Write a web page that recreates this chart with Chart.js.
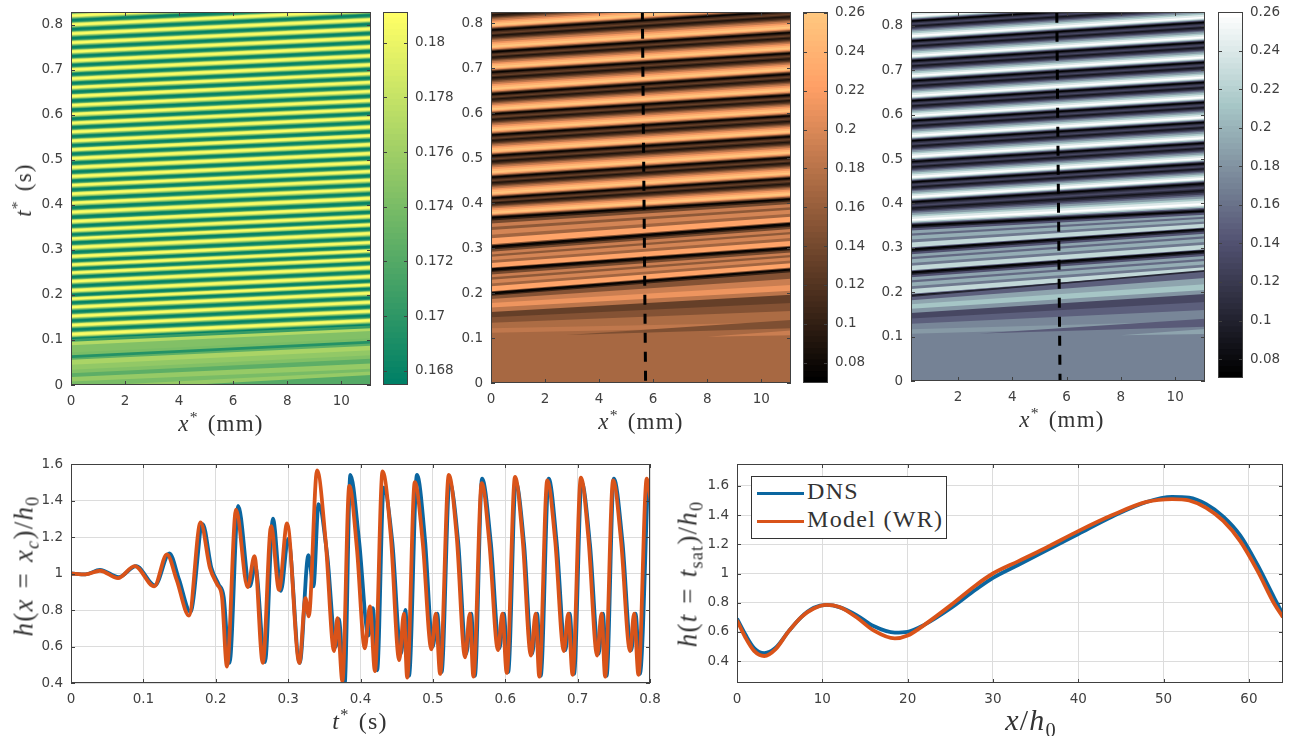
<!DOCTYPE html>
<html>
<head>
<meta charset="utf-8">
<title>Film thickness</title>
<script src="https://cdn.jsdelivr.net/npm/chart.js@4"></script>
<style>
  html, body { margin: 0; background: #fff; }
  #page { position: relative; width: 1289px; height: 736px; overflow: hidden; filter: blur(0.45px); }
  canvas { position: absolute; }
  .rotulo { position: absolute; transform: translate(-50%, -50%); white-space: nowrap; color: #333;
            font-family: "Liberation Serif", serif; letter-spacing: 1.2px; word-spacing: 2px; }
  .rotulo.vertical { transform: translate(-50%, -50%) rotate(-90deg); }
  .rotulo i { font-style: italic; }
  .rotulo sup, .rotulo sub { font-size: 0.68em; line-height: 0; }
  #legenda { position: absolute; left: 751px; top: 476px; width: 194px; height: 61px; background: #fff;
             border: 1px solid #333; font-family: "Liberation Serif", serif; font-size: 24px; color: #333; letter-spacing: 1.3px; }
  #legenda div { position: absolute; left: 55px; white-space: nowrap; }
  #legenda span { position: absolute; left: 5px; width: 47px; height: 3px; }
</style>
</head>
<body>
<div id="page"></div>
<script>
// Eixos
const ticksX = [0, 2, 4, 6, 8, 10];
const ticksXC = [2, 4, 6, 8, 10];
const ticksT = [0, 0.1, 0.2, 0.3, 0.4, 0.5, 0.6, 0.7, 0.8];
const ticksBarraA = [0.168, 0.17, 0.172, 0.174, 0.176, 0.178, 0.18];
const ticksBarraB = [0.08, 0.1, 0.12, 0.14, 0.16, 0.18, 0.2, 0.22, 0.24, 0.26];
const ticksHx = [0.4, 0.6, 0.8, 1, 1.2, 1.4, 1.6];
const ticksPosX = [0, 10, 20, 30, 40, 50, 60];

const tModel = [0, .02, .04, .065, .088, .115, .1325, .146, .163, .179, .192, .202, .2085, .2155, .228, .244, .2535, .265, .2765, .2875, .2985, .3155, .324, .3285, .34, .352, .3635, .368, .375, .3845, .395, .406, .413, .42, .4305, .442, .4535, .46, .4645, .475, .486, .498, .504, .51, .522, .533, .5445, .551, .556, .5675, .578, .59, .596, .602, .6135, .624, .6355, .642, .647, .658, .669, .681, .687, .693, .7045, .715, .727, .733, .738, .749, .76, .7725, .778, .784, .7955, .801];
const hModel = [1, .995, 1.015, .975, 1.04, .93, 1.105, .965, .77, 1.28, 1.03, .94, .875, .49, 1.35, .925, 1.095, .51, 1.26, .91, 1.275, .51, .865, .765, 1.565, 1.17, .575, .755, .41, 1.48, 1.14, .59, .82, .465, 1.56, 1.2, .525, .78, .43, 1.5, 1.17, .585, .78, .45, 1.54, 1.2, .54, .78, .435, 1.495, 1.17, .58, .78, .455, 1.53, 1.19, .55, .78, .435, 1.51, 1.18, .575, .78, .445, 1.525, 1.19, .55, .78, .435, 1.51, 1.18, .575, .78, .445, 1.52, 1.4];
const tDns = [0, .02, .04, .066, .09, .116, .136, .149, .165, .182, .194, .204, .211, .219, .231, .247, .2545, .268, .279, .29, .3, .316, .328, .335, .342, .354, .366, .37, .378, .386, .398, .411, .417, .423, .432, .444, .456, .462, .467, .478, .489, .5, .506, .512, .523, .535, .546, .553, .558, .568, .58, .592, .598, .604, .6145, .626, .637, .644, .649, .66, .671, .683, .689, .695, .7055, .717, .729, .735, .74, .75, .762, .774, .78, .786, .797];
const hDns = [1, .995, 1.02, .98, 1.04, .935, 1.11, .97, .79, 1.27, 1.03, .94, .87, .51, 1.37, .93, 1.04, .515, 1.3, .905, 1.19, .51, 1.1, .93, 1.38, 1.1, .6, .75, .39, 1.54, 1.18, .66, .81, .47, 1.47, 1.17, .56, .8, .44, 1.54, 1.19, .6, .78, .46, 1.5, 1.17, .56, .78, .44, 1.52, 1.17, .59, .78, .46, 1.5, 1.16, .56, .78, .44, 1.52, 1.17, .58, .78, .45, 1.5, 1.16, .56, .78, .44, 1.52, 1.17, .58, .78, .45, 1.5];

// Serie h(t = tsat) / h0, grafico inferior direito
const xPerfil = [0, 1, 2, 3.2, 4.5, 6, 7.5, 9, 10.5, 12, 14, 16, 18.5, 20, 22, 25, 28, 30, 33, 36, 40, 44, 48, 51, 53, 55, 57, 59, 61, 63, 64];
const hPerfilDns = [.69, .58, .49, .455, .49, .6, .7, .765, .785, .77, .715, .64, .595, .6, .65, .76, .89, .97, 1.06, 1.15, 1.27, 1.39, 1.49, 1.525, 1.52, 1.475, 1.39, 1.26, 1.06, .83, .72];
const hPerfilModel = [.68, .56, .47, .435, .48, .6, .7, .76, .785, .77, .7, .61, .555, .575, .65, .78, .92, 1, 1.085, 1.17, 1.29, 1.4, 1.49, 1.51, 1.5, 1.45, 1.36, 1.22, 1.02, .79, .7];
const nomesSeries = ["DNS", "Model (WR)"];

// Mapa A: vale escuro de cada faixa em x = 0 e perfil de uma faixa
const valesA = [.102, .123, .143, .163, .183, .2, .22, .24, .258, .276, .295, .316, .334, .353, .373, .394, .414, .434, .453, .473, .493, .513, .532, .552, .572, .591, .611, .631, .651, .67, .69, .71, .73, .75, .77, .79, .81, .83];
const subidaA = 0.031;
const faseA = [.1, .18, .28, .38, .6, .68, .76, .87, 1];
const valorA = [.1678, .17, .174, .178, .1808, .179, .1745, .17, .168];
const inicioEsqA = [-.014, -.004, .008, .018, .026, .034, .045, .056, .06, .066, .072, .088, .096, .102];
const inicioDirA = [.022, .03, .036, .048, .058, .066, .077, .087, .092, .098, .104, .12, .126, .132];
const inicioValorA = [.172, .1755, .174, .1755, .1725, .1745, .1752, .1765, .1725, .1695, .174, .1745, .177, .1705];

// Mapas B e C: linha mais escura de cada ciclo em x = 0 e x = xmax
const linhaEsqB = [.199, .252, .302, .368, .411, .457, .505, .551, .598, .642, .691, .736, .785, .83];
const linhaDirB = [.252, .3, .353, .409, .455, .501, .548, .594, .64, .687, .733, .779, .827, .872];
const linhaEsqC = [.19, .243, .295, .349, .402, .447, .493, .54, .585, .63, .675, .72, .765, .81, .855];
const linhaDirC = [.241, .292, .342, .383, .445, .49, .536, .583, .628, .673, .718, .763, .808, .853, .898];
const faseCiclo = [.03, .07, .12, .17, .22, .29, .38, .46, .54, .6, .66, .72, .77, .82, .88, .93, .97, 1];
const valorCiclo = [.074, .1, .15, .205, .245, .258, .24, .215, .185, .155, .125, .105, .09, .11, .13, .115, .095, .076];
const faseCicloInicial = [.06, .1, .3, .42, .58, .68, .8, .9, .96, 1];
const valorCicloInicial = [.078, .15, .225, .165, .195, .155, .19, .14, .1, .075];
const inicioEsqB = [.112, .122, .134, .146, .158, .168, .178, .187, .194, .197];
const inicioDirB = [.125, .135, .16, .178, .196, .205, .218, .232, .246, .25];
const inicioValorB = [.17, .185, .172, .15, .13, .18, .21, .19, .15, .105];
const cunhaX = [2.8, 11.1];
const cunhaBaixo = [.107, .122];
const cunhaAlto = [.107, .14];
const valorCunha = 0.145;
const cunhaClaraX = [8, 11.1];
const cunhaClaraBaixo = [.103, .106];
const cunhaClaraAlto = [.103, .117];
const valorCunhaClara = 0.19;
const tracoB = [[5.6, .83], [5.72, 0]];
const tracoC = [[5.64, .83], [5.76, 0]];

const pagina = document.getElementById("page");
const corTexto = "#404040";

// Mapas de cor do MATLAB, 64 niveis
function nivel(v, min, max) {
  const n = Math.max(0, Math.min(63, Math.floor((v - min) / (max - min) * 64)));
  return n / 63;
}
function rgb(r, g, b) {
  return `rgb(${Math.round(r * 255)},${Math.round(g * 255)},${Math.round(b * 255)})`;
}
const summer = x => rgb(x, 0.5 + x / 2, 0.4);
const copper = x => rgb(Math.min(1, 1.25 * x), 0.7812 * x, 0.4975 * x);
const bone = x => {
  const c = v => Math.max(0, Math.min(1, v));
  const hr = c(x / 0.375), hg = c((x - 0.375) / 0.375), hb = c((x - 0.75) / 0.25);
  return rgb((7 * x + hb) / 8, (7 * x + hg) / 8, (7 * x + hr) / 8);
};

// Caixa e marcas para dentro, como no MATLAB
const caixa = {
  id: "caixa",
  afterDraw(chart) {
    const { ctx, chartArea: a, scales } = chart;
    ctx.save();
    ctx.strokeStyle = corTexto;
    ctx.lineWidth = 1;
    ctx.beginPath();
    if (scales.x && scales.x.options.display) {
      scales.x.ticks.forEach((t) => {
        const p = Math.round(scales.x.getPixelForValue(t.value)) + 0.5;
        ctx.moveTo(p, a.bottom); ctx.lineTo(p, a.bottom - 4);
        ctx.moveTo(p, a.top); ctx.lineTo(p, a.top + 4);
      });
    }
    scales.y.ticks.forEach((t) => {
      const p = Math.round(scales.y.getPixelForValue(t.value)) + 0.5;
      ctx.moveTo(a.left, p); ctx.lineTo(a.left + 4, p);
      ctx.moveTo(a.right, p); ctx.lineTo(a.right - 4, p);
    });
    ctx.stroke();
    ctx.strokeRect(a.left + 0.5, a.top + 0.5, a.right - a.left - 1, a.bottom - a.top - 1);
    ctx.restore();
  },
};

function formato(v) {
  return String(Number(v.toFixed(3)));
}

function semMargem(s) {
  s.paddingTop = 0; s.paddingBottom = 0; s.paddingLeft = 0; s.paddingRight = 0;
}

function eixo(min, max, ticks, extra) {
  return Object.assign({
    type: "linear", min, max,
    border: { display: false },
    grid: { display: false, drawTicks: false },
    ticks: {
      padding: 8, color: corTexto, autoSkip: false, maxRotation: 0,
      font: { family: "'DejaVu Sans'", size: 13.5 },
      callback: formato,
    },
    afterBuildTicks: (s) => { s.ticks = ticks.map((value) => ({ value })); },
  }, extra);
}

// Cria um grafico com a area de plotagem exatamente em area = [esq, topo, dir, base]
function grafico(area, datasets, escalas) {
  const [esq, topo, dir, base] = area;
  const mE = 62, mT = 12, mD = 22, mB = 36;
  const c = document.createElement("canvas");
  c.width = dir - esq + mE + mD;
  c.height = base - topo + mT + mB;
  c.style.left = (esq - mE) + "px";
  c.style.top = (topo - mT) + "px";
  pagina.appendChild(c);
  escalas.y.afterFit = (s) => { s.width = mE; semMargem(s); };
  escalas.x.afterFit = (s) => { s.height = mB; semMargem(s); };
  return new Chart(c, {
    type: "line",
    data: { datasets },
    options: {
      responsive: false, animation: false, events: [],
      layout: { padding: { top: mT, right: mD } },
      plugins: { legend: { display: false }, tooltip: { enabled: false } },
      elements: { point: { radius: 0 } },
      scales: escalas,
    },
    plugins: [caixa],
  });
}

function banda(xFim, esq, dir, cor) {
  return {
    data: [{ x: 0, y: esq }, { x: xFim, y: dir }],
    borderColor: "transparent", borderWidth: 1, backgroundColor: cor, fill: "start",
  };
}

// Barra de cores: um retangulo por nivel
function barra(area, min, max, mapa, ticks) {
  const [esq, topo, dir, base] = area;
  const niveis = [];
  for (let i = 0; i < 64; i++) niveis.push(i);
  const c = document.createElement("canvas");
  c.width = dir - esq + 50;
  c.height = base - topo + 12;
  c.style.left = esq + "px";
  c.style.top = (topo - 6) + "px";
  pagina.appendChild(c);
  const y = eixo(min, max, ticks, { position: "right", afterFit: (s) => { s.width = 50; semMargem(s); } });
  y.ticks.padding = 7;
  new Chart(c, {
    type: "bar",
    data: {
      labels: ["c"],
      datasets: niveis.map((i) => ({
        data: [[min, min + (i + 1) / 64 * (max - min)]],
        backgroundColor: mapa(i / 63), barPercentage: 1, categoryPercentage: 1, grouped: false,
      })),
    },
    options: {
      responsive: false, animation: false, events: [],
      layout: { padding: { top: 6, bottom: 6 } },
      plugins: { legend: { display: false }, tooltip: { enabled: false } },
      scales: { x: { display: false, offset: true }, y },
    },
    plugins: [caixa],
  });
}

function mapaCiclos(xFim, min, max, mapa, esq, dir, inicioE, inicioD, inicioV) {
  const bandas = [];
  const cor = (v) => mapa(nivel(v, min, max));
  inicioE.forEach((e, i) => bandas.push(banda(xFim, e, inicioD[i], cor(inicioV[i]))));
  bandas.push(banda(xFim, esq[0], dir[0], cor(.075)));
  for (let i = 0; i < esq.length - 1; i++) {
    const fases = i < 3 ? faseCicloInicial : faseCiclo;
    const valores = i < 3 ? valorCicloInicial : valorCiclo;
    fases.forEach((f, k) => {
      bandas.push(banda(xFim,
        esq[i] + f * (esq[i + 1] - esq[i]),
        dir[i] + f * (dir[i + 1] - dir[i]),
        cor(valores[k])));
    });
  }
  return bandas;
}

function tracejado(traco) {
  return {
    data: traco.map(([x, y]) => ({ x, y })),
    borderColor: "#000", borderWidth: 3, borderDash: [10, 9], fill: false,
  };
}

function cunha(xs, alto, baixo, cor) {
  return [
    { data: xs.map((x, i) => ({ x, y: alto[i] })), borderColor: "transparent", borderWidth: 1, backgroundColor: cor, fill: "+1" },
    { data: xs.map((x, i) => ({ x, y: baixo[i] })), borderColor: "transparent", borderWidth: 1, fill: false },
  ];
}
function cunhas(min, max, mapa) {
  return [
    ...cunha(cunhaX, cunhaAlto, cunhaBaixo, mapa(nivel(valorCunha, min, max))),
    ...cunha(cunhaClaraX, cunhaClaraAlto, cunhaClaraBaixo, mapa(nivel(valorCunhaClara, min, max))),
  ];
}

// Mapa A
const xMaxA = 11.1;
const bandasA = inicioEsqA.map((e, i) => banda(xMaxA, e, inicioDirA[i], summer(nivel(inicioValorA[i], .16748, .18112))));
valesA.slice(0, -1).forEach((v, i) => {
  faseA.forEach((f, k) => {
    const e = v + f * (valesA[i + 1] - v);
    bandasA.push(banda(xMaxA, e, e + subidaA, summer(nivel(valorA[k], .16748, .18112))));
  });
});
grafico([71, 12, 371, 385], bandasA, {
  x: eixo(0, xMaxA, ticksX),
  y: eixo(0, 0.828, ticksT),
});
barra([383, 12, 408, 385], .16748, .18112, summer, ticksBarraA);

// Mapa B
const xMaxB = 11.1;
const bandasB = mapaCiclos(xMaxB, .0695, .2605, copper, linhaEsqB, linhaDirB, inicioEsqB, inicioDirB, inicioValorB);
grafico([491, 12, 791, 383], [tracejado(tracoB), ...cunhas(.0695, .2605, copper), ...bandasB], {
  x: eixo(0, xMaxB, ticksX),
  y: eixo(0, 0.825, ticksT),
});
barra([803, 12, 828, 383], .0695, .2605, copper, ticksBarraB);

// Mapa C
const xMaxC = 11.1;
const inicioEsqC = inicioEsqB.map((v) => v - 0.006);
const bandasC = mapaCiclos(xMaxC, .0702, .26, bone, linhaEsqC, linhaDirC, inicioEsqC, inicioDirB, inicioValorB);
grafico([911, 12, 1205, 381], [tracejado(tracoC), ...cunhas(.0702, .26, bone), ...bandasC], {
  x: eixo(0.27, xMaxC, ticksXC),
  y: eixo(0, 0.8315, ticksT),
});
barra([1218, 12, 1243, 378], .0702, .26, bone, ticksBarraB);

// Graficos de linha
function serie(xs, ys, cor, ordem) {
  return {
    data: xs.map((x, i) => ({ x, y: ys[i] })),
    borderColor: cor, borderWidth: 3.8, fill: false, cubicInterpolationMode: "monotone", order: ordem,
  };
}
const grade = { display: true, drawTicks: false, color: "#dcdcdc", lineWidth: 1 };
grafico([71, 464, 650, 683], [serie(tDns, hDns, "#0b66a0", 2), serie(tModel, hModel, "#d95319", 1)], {
  x: eixo(0, 0.8, ticksT, { grid: grade }),
  y: eixo(0.4, 1.6, ticksHx, { grid: grade }),
});
grafico([737, 464, 1283, 683], [serie(xPerfil, hPerfilDns, "#0b66a0", 2), serie(xPerfil, hPerfilModel, "#d95319", 1)], {
  x: eixo(0, 64, ticksPosX, { grid: grade }),
  y: eixo(0.25, 1.75, ticksHx, { grid: grade }),
});

// Rotulos
function rotulo(html, x, y, tam, vertical) {
  const d = document.createElement("div");
  d.className = "rotulo" + (vertical ? " vertical" : "");
  d.style.left = x + "px";
  d.style.top = y + "px";
  d.style.fontSize = tam + "px";
  d.innerHTML = html;
  pagina.appendChild(d);
}
const xMm = "<i>x</i><sup>*</sup> (mm)";
rotulo(xMm, 221, 424, 23);
rotulo(xMm, 641, 422, 23);
rotulo(xMm, 1062, 420, 23);
rotulo("<i>t</i><sup>*</sup> (s)", 24, 190, 23, true);
rotulo("<i>t</i><sup>*</sup> (s)", 360, 721, 24);
rotulo("<i>h</i>(<i>x</i> = <i>x<sub>c</sub></i>)/<i>h</i><sub>0</sub>", 24, 566, 27, true);
rotulo("<i>h</i>(<i>t</i> = <i>t</i><sub>sat</sub>)/<i>h</i><sub>0</sub>", 688, 574, 27, true);
rotulo("<i>x</i>/<i>h</i><sub>0</sub>", 1031, 720, 30);

const legenda = document.createElement("div");
legenda.id = "legenda";
nomesSeries.forEach((nome, i) => {
  const cor = i === 0 ? "#0b66a0" : "#d95319";
  const topo = i === 0 ? 1 : 29;
  legenda.innerHTML += `<span style="top:${topo + 14}px;background:${cor}"></span><div style="top:${topo}px">${nome}</div>`;
});
pagina.appendChild(legenda);
</script>
</body>
</html>
